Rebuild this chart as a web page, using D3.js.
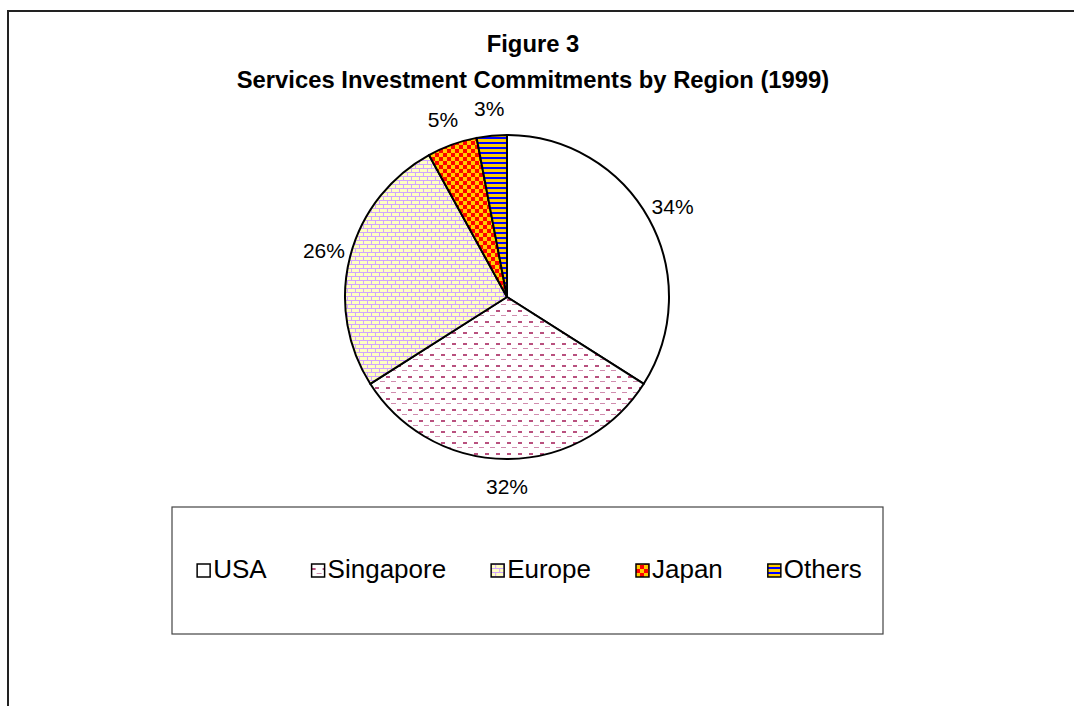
<!DOCTYPE html>
<html><head><meta charset="utf-8">
<script src="https://cdn.jsdelivr.net/npm/d3@7"></script>
<style>body{margin:0;background:#fff}svg{display:block}text{font-family:"Liberation Sans",Arial,sans-serif}pattern rect{shape-rendering:crispEdges}</style>
</head><body>
<svg id="c" width="1074" height="706"></svg>
<script>
const categories = ["USA", "Singapore", "Europe", "Japan", "Others"];
const values = [34, 32, 26, 5, 3];
const pctLabels = ["34%", "32%", "26%", "5%", "3%"];
const titleLines = ["Figure 3", "Services Investment Commitments by Region (1999)"];

const svg = d3.select("#c");
const defs = svg.append("defs");

function pat(id, w, h) {
  return defs.append("pattern").attr("id", id).attr("patternUnits", "userSpaceOnUse")
    .attr("width", w).attr("height", h);
}
// Singapore dashed horizontal
let p = pat("p1", 11, 11);
p.append("rect").attr("width", 11).attr("height", 11).attr("fill", "#fff");
p.append("rect").attr("x", 0).attr("y", 2).attr("width", 4).attr("height", 2).attr("fill", "#b8507e");
p.append("rect").attr("x", 5).attr("y", 7).attr("width", 5).attr("height", 1).attr("fill", "#d08cae");
// Europe brick
p = pat("p2", 8, 8);
p.append("rect").attr("width", 8).attr("height", 8).attr("fill", "#ffffc0");
p.append("rect").attr("x", 0).attr("y", 3).attr("width", 8).attr("height", 1).attr("fill", "#d0a4ff");
p.append("rect").attr("x", 0).attr("y", 7).attr("width", 8).attr("height", 1).attr("fill", "#d0a4ff");
p.append("rect").attr("x", 0).attr("y", 0).attr("width", 1).attr("height", 3).attr("fill", "#d0a4ff");
p.append("rect").attr("x", 4).attr("y", 4).attr("width", 1).attr("height", 3).attr("fill", "#d0a4ff");
// Japan checker
p = pat("p3", 8, 8);
p.append("rect").attr("width", 8).attr("height", 8).attr("fill", "#ffcc00");
p.append("rect").attr("x", 0).attr("y", 0).attr("width", 4).attr("height", 4).attr("fill", "#ff0000");
p.append("rect").attr("x", 4).attr("y", 4).attr("width", 4).attr("height", 4).attr("fill", "#ff0000");
// Others stripes
p = pat("p4", 5, 5);
p.append("rect").attr("width", 5).attr("height", 5).attr("fill", "#ffcc00");
p.append("rect").attr("x", 0).attr("y", 0).attr("width", 5).attr("height", 2).attr("fill", "#0000ff");

const fills = ["#ffffff", "url(#p1)", "url(#p2)", "url(#p3)", "url(#p4)"];

// outer frame
svg.append("rect").attr("x", 8).attr("y", 11).attr("width", 1100).attr("height", 740)
  .attr("fill", "none").attr("stroke", "#222").attr("stroke-width", 2);

// title
svg.selectAll("text.title").data(titleLines).join("text").attr("class", "title")
  .attr("x", 533).attr("y", (d, i) => i === 0 ? 52 : 88)
  .attr("text-anchor", "middle").attr("font-weight", "bold").attr("font-size", 23.8)
  .attr("fill", "#000").text(d => d);

// pie
const cx = 507, cy = 297, R = 162;
const pie = d3.pie().sort(null).value(d => d)(values);
const arc = d3.arc().innerRadius(0).outerRadius(R);
const labelArc = d3.arc().innerRadius(189).outerRadius(189);
const g = svg.append("g").attr("transform", `translate(${cx},${cy})`);
g.selectAll("path").data(pie).join("path")
  .attr("d", arc).attr("fill", (d, i) => fills[i])
  .attr("stroke", "#000").attr("stroke-width", 2).attr("stroke-linejoin", "round");
g.selectAll("text").data(pie).join("text")
  .attr("transform", d => `translate(${labelArc.centroid(d)})`)
  .attr("text-anchor", "middle").attr("dy", "0.36em").attr("font-size", 21)
  .attr("fill", "#000").text((d, i) => pctLabels[i]);

// legend
const lx = 172, ly = 507, lw = 711, lh = 127;
svg.append("rect").attr("x", lx).attr("y", ly).attr("width", lw).attr("height", lh)
  .attr("fill", "#fff").attr("stroke", "#444").attr("stroke-width", 1.2);
const lg = svg.append("g");
const items = lg.selectAll("g").data(categories).join("g");
items.append("rect").attr("width", 13).attr("height", 13).attr("y", -13)
  .attr("fill", (d, i) => fills[i]).attr("stroke", "#000").attr("stroke-width", 1.5);
items.append("text").attr("x", 16).attr("y", 1).attr("font-size", 26).attr("fill", "#000").text(d => d);
let x = 0;
const pos = [];
const gap = 45;
items.each(function () {
  const w = 16 + d3.select(this).select("text").node().getComputedTextLength();
  pos.push(x); x += w + gap;
});
const total = x - gap;
const startX = lx + lw / 2 - total / 2 + 2;
items.attr("transform", (d, i) => `translate(${startX + pos[i]},577)`);
</script>
</body></html>
